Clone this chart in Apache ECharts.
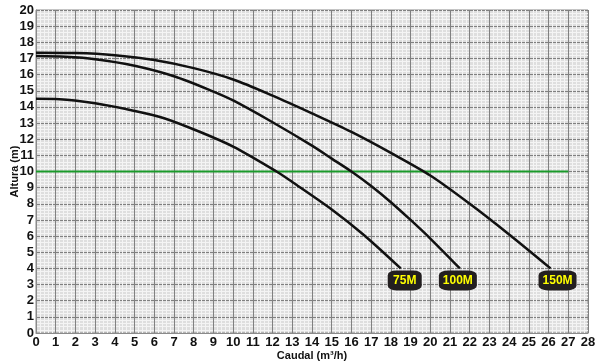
<!DOCTYPE html>
<html>
<head>
<meta charset="utf-8">
<script src="https://cdn.jsdelivr.net/npm/echarts@6/dist/echarts.min.js"></script>
<style>
  html, body { margin: 0; padding: 0; background: #fff; }
  #chart { width: 600px; height: 363px; }
</style>
</head>
<body>
<div id="chart"></div>
<script>
// pump curves, caudal (m3/h) vs altura (m)
const curve75 = [[0, 14.5], [1.2, 14.48], [3, 14.22], [5, 13.75], [6.5, 13.3], [8.3, 12.46], [10, 11.54], [12.2, 10.0], [13, 9.35], [15, 7.65], [16.6, 6.1], [18.5, 4.0]]
const curve100 = [[0, 17.15], [1.5, 17.1], [3, 16.95], [5, 16.55], [7, 15.9], [9, 14.95], [10, 14.4], [12, 13.05], [14, 11.6], [15, 10.8], [16, 10.0], [17, 9.1], [18, 8.1], [19, 7.0], [20, 5.85], [21.5, 4.0]]
const curve150 = [[0, 17.35], [2, 17.33], [4, 17.2], [6, 16.9], [8, 16.4], [10, 15.7], [12, 14.7], [14, 13.6], [16, 12.45], [18, 11.15], [20, 9.75], [22, 8.0], [24, 6.1], [26.1, 4.0]]
const refLine = [[0, 10], [27, 10]]
const curveNames = ['75M', '100M', '150M']

const chart = echarts.init(document.getElementById('chart'))

function pumpSeries(name, data, boxW, offsetX) {
  const last = data[data.length - 1]
  return {
    name: name,
    type: 'line',
    smooth: 0.3,
    showSymbol: false,
    data: data,
    lineStyle: { color: '#111', width: 2.5 },
    z: 3,
    markPoint: {
      symbol: 'roundRect',
      symbolSize: [boxW, 20],
      symbolOffset: [offsetX, 12],
      itemStyle: { color: '#231f20' },
      label: {
        show: true,
        color: '#ffff00',
        fontWeight: 'bold',
        fontSize: 12,
        fontFamily: 'Liberation Sans, Arial, sans-serif',
        formatter: name
      },
      data: [{ coord: last, value: name }]
    }
  }
}

const option = {
  animation: false,
  grid: {
    left: 36, right: 12, top: 10, bottom: 30,
    outerBoundsMode: 'none',
    containLabel: false,
    show: true,
    backgroundColor: '#dedede',
    borderColor: '#8a8a8a',
    borderWidth: 1
  },
  xAxis: {
    type: 'value',
    min: 0, max: 28, interval: 1,
    name: 'Caudal (m³/h)',
    nameLocation: 'middle',
    nameGap: 17,
    nameMoveOverlap: false,
    nameTextStyle: { fontWeight: 'bold', fontSize: 11, color: '#111', fontFamily: 'Liberation Sans, Arial, sans-serif' },
    axisLine: { lineStyle: { color: '#8a8a8a' } },
    axisTick: { show: false },
    axisLabel: { color: '#111', fontWeight: 'bold', fontSize: 13, margin: 3, fontFamily: 'Liberation Sans, Arial, sans-serif' },
    splitLine: { lineStyle: { color: '#808080', width: 1 } },
    minorTick: { show: false, splitNumber: 5 },
    minorSplitLine: { show: true, lineStyle: { color: '#f4f4f4', width: 1 } }
  },
  yAxis: {
    type: 'value',
    min: 0, max: 20, interval: 1,
    name: 'Altura (m)',
    nameLocation: 'middle',
    nameGap: 16,
    nameMoveOverlap: false,
    nameTextStyle: { fontWeight: 'bold', fontSize: 11, color: '#111', fontFamily: 'Liberation Sans, Arial, sans-serif' },
    axisLine: { lineStyle: { color: '#8a8a8a' } },
    axisTick: { show: false },
    axisLabel: { color: '#111', fontWeight: 'bold', fontSize: 13, margin: 2, fontFamily: 'Liberation Sans, Arial, sans-serif' },
    splitLine: { lineStyle: { color: '#808080', width: 1 } },
    minorTick: { show: false, splitNumber: 5 },
    minorSplitLine: { show: true, lineStyle: { color: '#f4f4f4', width: 1 } }
  },
  series: [
    {
      name: 'ref',
      type: 'line',
      data: refLine,
      showSymbol: false,
      lineStyle: { color: '#1a9a2a', width: 2 },
      z: 2
    },
    pumpSeries(curveNames[0], curve75, 34, 4),
    pumpSeries(curveNames[1], curve100, 38, -2),
    pumpSeries(curveNames[2], curve150, 38, 7)
  ]
}

chart.setOption(option)
</script>
</body>
</html>
